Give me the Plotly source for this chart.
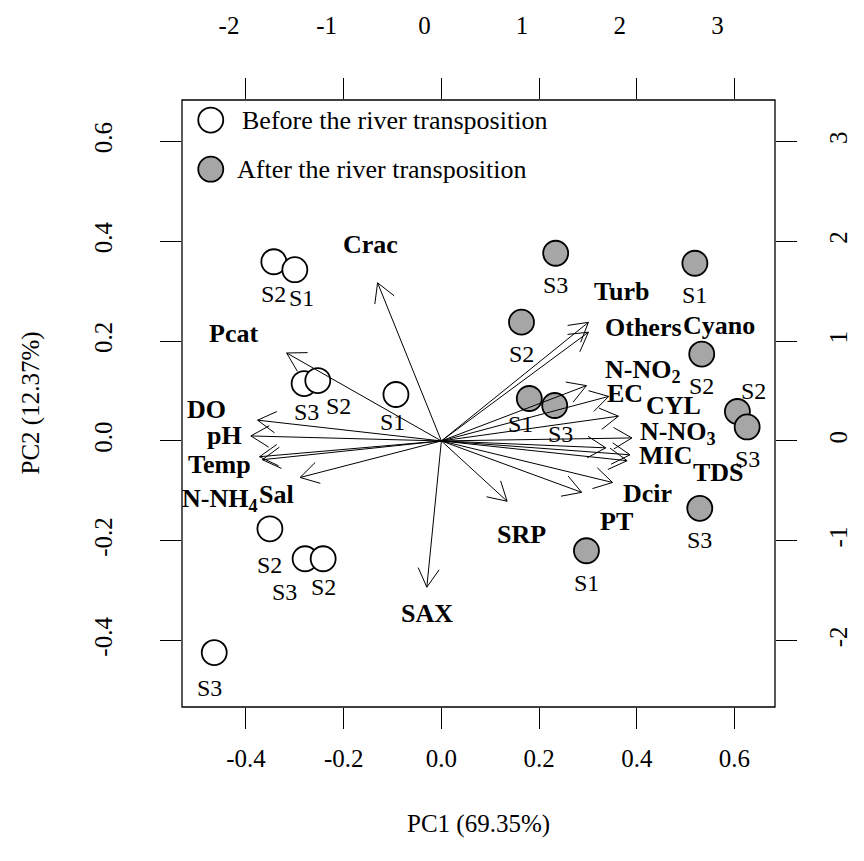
import numpy as np
import plotly.graph_objects as go

# ---- PCA scores (bottom / left axes) ----
before_site = ["S2", "S1", "S3", "S2", "S1", "S2", "S3", "S2", "S3"]
before_pc1 = [-0.343, -0.300, -0.281, -0.253, -0.093, -0.351, -0.279, -0.242, -0.465]
before_pc2 = [0.359, 0.343, 0.115, 0.121, 0.093, -0.176, -0.236, -0.236, -0.424]

after_site = ["S3", "S1", "S2", "S2", "S1", "S3", "S2", "S3", "S3", "S1"]
after_pc1 = [0.234, 0.519, 0.164, 0.533, 0.180, 0.232, 0.606, 0.626, 0.529, 0.297]
after_pc2 = [0.376, 0.356, 0.238, 0.174, 0.085, 0.071, 0.059, 0.028, -0.135, -0.220]

# ---- variable loadings (top / right axes) ----
variables = ["Crac", "Pcat", "DO", "pH", "Temp", "N-NH<sub>4</sub>", "Sal", "SAX",
             "SRP", "PT", "Dcir", "TDS", "MIC", "N-NO<sub>3</sub>", "CYL", "EC",
             "N-NO<sub>2</sub>", "Turb", "Others", "Cyano"]
load_pc1 = [-0.653, -1.584, -1.881, -1.950, -1.861, -1.832, -1.446, -0.149,
            0.673, 1.436, 1.752, 1.901, 1.931, 1.950, 1.812, 1.713,
            1.485, 1.505, 1.505, 1.683]
load_pc2 = [1.584, 0.881, 0.208, 0.050, -0.158, -0.188, -0.366, -1.465,
            -0.604, -0.515, -0.416, -0.198, -0.139, 0.030, 0.248, 0.446,
            0.554, 1.188, 1.089, -0.069]

# axis ticks
pc_ticks = [-0.4, -0.2, 0.0, 0.2, 0.4, 0.6]
pc_ticktext = ["-0.4", "-0.2", "0.0", "0.2", "0.4", "0.6"]
load_ticks = [-2, -1, 0, 1, 2, 3]
load_ticktext = ["-2", "-1", "0", "1", "2", "3"]

pc_range_x = [-0.531, 0.683]
pc_range_y = [-0.533, 0.683]
load_scale = 5.0

FONT = "Liberation Serif, serif"

# pixel offsets of the text labels (dx right, dy down)
var_label_offset = {
    "Crac": (-7, -38), "Pcat": (-53, -19), "DO": (-51, -11), "pH": (-26, 0),
    "Temp": (-40, 8), "N-NH<sub>4</sub>": (-42, 40), "Sal": (-24, 17),
    "SAX": (0, 26), "SRP": (14, 33), "PT": (35, 29), "Dcir": (35, 11),
    "TDS": (91, 12), "MIC": (35, 1), "N-NO<sub>3</sub>": (46, -5),
    "CYL": (55, -11), "EC": (16, -3), "N-NO<sub>2</sub>": (57, -15),
    "Turb": (33, -31), "Others": (55, -5), "Cyano": (113, -122),
}
site_offset_default = (0, 32)
before_site_offset = {1: (7, 28), 2: (2, 28), 3: (21, 25), 4: (-3, 27),
                      5: (0, 36), 6: (-21, 33), 7: (0, 28), 8: (-5, 35)}
after_site_offset = {4: (-9, 25), 5: (6, 28), 6: (16, -20)}

fig = go.Figure()

# loading arrows with open heads
head_len = 0.215
xs, ys = [], []
for lx, ly in zip(load_pc1, load_pc2):
    th = np.arctan2(ly, lx)
    xs += [0, lx, None]
    ys += [0, ly, None]
    for s in (1, -1):
        a = th + np.pi + s * np.pi / 6
        xs += [lx, lx + head_len * np.cos(a), None]
        ys += [ly, ly + head_len * np.sin(a), None]
fig.add_trace(go.Scatter(x=xs, y=ys, xaxis="x2", yaxis="y2", mode="lines",
                         line=dict(color="black", width=1),
                         hoverinfo="skip", showlegend=False))

# sample scores
fig.add_trace(go.Scatter(x=before_pc1, y=before_pc2, mode="markers",
                         marker=dict(size=25, color="white",
                                     line=dict(color="black", width=1.8)),
                         showlegend=False))
fig.add_trace(go.Scatter(x=after_pc1, y=after_pc2, mode="markers",
                         marker=dict(size=25, color="#a6a6a6",
                                     line=dict(color="black", width=1.8)),
                         showlegend=False))

ann = []
for i, (x, y, s) in enumerate(zip(before_pc1, before_pc2, before_site)):
    dx, dy = before_site_offset.get(i, site_offset_default)
    ann.append(dict(x=x, y=y, xref="x", yref="y", text=s, showarrow=False,
                    xshift=dx, yshift=-dy, font=dict(family=FONT, size=24, color="black")))
for i, (x, y, s) in enumerate(zip(after_pc1, after_pc2, after_site)):
    dx, dy = after_site_offset.get(i, site_offset_default)
    ann.append(dict(x=x, y=y, xref="x", yref="y", text=s, showarrow=False,
                    xshift=dx, yshift=-dy, font=dict(family=FONT, size=24, color="black")))
for name, lx, ly in zip(variables, load_pc1, load_pc2):
    dx, dy = var_label_offset[name]
    ann.append(dict(x=lx, y=ly, xref="x2", yref="y2", text="<b>" + name + "</b>",
                    showarrow=False, xshift=dx, yshift=-dy,
                    font=dict(family=FONT, size=26, color="black")))

# key
ann.append(dict(x=0.0974, y=0.967, xref="paper", yref="paper", xanchor="left",
                yanchor="middle", text="Before the river transposition", showarrow=False,
                font=dict(family=FONT, size=26, color="black")))
ann.append(dict(x=0.0893, y=0.886, xref="paper", yref="paper", xanchor="left",
                yanchor="middle", text="After the river transposition", showarrow=False,
                font=dict(family=FONT, size=26, color="black")))

# axis titles
ann.append(dict(x=0.5, y=0, xref="paper", yref="paper", yanchor="middle",
                yshift=-117, text="PC1 (69.35%)", showarrow=False,
                font=dict(family=FONT, size=25, color="black")))
ann.append(dict(x=0, y=0.5, xref="paper", yref="paper", xanchor="center",
                xshift=-152, text="PC2 (12.37%)", textangle=-90, showarrow=False,
                font=dict(family=FONT, size=25, color="black")))

shapes = [
    dict(type="rect", xref="paper", yref="paper", x0=0, x1=1, y0=0, y1=1,
         line=dict(color="black", width=1.3), layer="above"),
    dict(type="circle", xref="paper", yref="paper", xsizemode="pixel", ysizemode="pixel",
         xanchor=0.0485, yanchor=0.967, x0=-12.5, x1=12.5, y0=-12.5, y1=12.5,
         fillcolor="white", line=dict(color="black", width=1.8)),
    dict(type="circle", xref="paper", yref="paper", xsizemode="pixel", ysizemode="pixel",
         xanchor=0.0485, yanchor=0.886, x0=-12.5, x1=12.5, y0=-12.5, y1=12.5,
         fillcolor="#a6a6a6", line=dict(color="black", width=1.8)),
]

tick_common = dict(ticks="outside", ticklen=21, tickwidth=1, tickcolor="black",
                   showgrid=False, zeroline=False, showline=False,
                   tickfont=dict(family=FONT, size=25, color="black"))

fig.update_layout(
    width=864, height=861,
    margin=dict(l=182, r=69, t=93, b=154),
    paper_bgcolor="white", plot_bgcolor="white",
    showlegend=False,
    xaxis=dict(range=pc_range_x, tickvals=pc_ticks, ticktext=pc_ticktext,
               ticklabelstandoff=8, **tick_common),
    yaxis=dict(range=pc_range_y, tickvals=pc_ticks, ticktext=pc_ticktext,
               tickangle=-90, ticklabelstandoff=38, **tick_common),
    xaxis2=dict(range=[v * load_scale for v in pc_range_x], tickvals=load_ticks,
                ticktext=load_ticktext, overlaying="x", side="top", anchor="y",
                ticklabelstandoff=34, ticklabelshift=-17, **tick_common),
    yaxis2=dict(range=[v * load_scale for v in pc_range_y], tickvals=load_ticks,
                ticktext=load_ticktext, overlaying="y", side="right", anchor="x",
                tickangle=-90, ticklabelstandoff=20, **tick_common),
    annotations=ann,
    shapes=shapes,
)

# page without body margin or scrollbars
page_css = ("document.documentElement.style.margin='0';"
            "document.body.style.margin='0';"
            "document.documentElement.style.overflow='hidden';"
            "document.body.style.overflow='hidden';")
fig.write_html("out.html", post_script=page_css)
